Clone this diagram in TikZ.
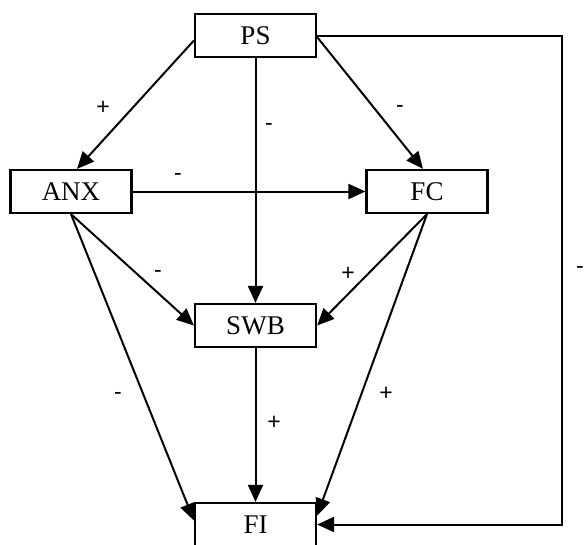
\documentclass[tikz,border=0pt]{standalone}
\usepackage{fontspec}
\setmainfont{Liberation Serif}
\newfontfamily\signfont{Liberation Sans}
\usetikzlibrary{arrows.meta}
\begin{document}
\begin{tikzpicture}[x=1pt,y=-1pt,
  var/.style={draw,line width=2.2pt,minimum width=121pt,minimum height=43pt,
    inner sep=0pt,font=\fontsize{27}{27}\selectfont},
  link/.style={line width=2pt,-{Triangle[length=17pt,width=15pt]}},
  sign/.style={inner sep=0pt,font=\signfont\fontsize{23}{23}\selectfont}]
\useasboundingbox (0,0) rectangle (585,544);
% variables
\node[var] (PS)  at (255.5,35.5)  {PS};
\node[var] (ANX) at (71,191.5)    {ANX};
\node[var] (FC)  at (427,191.5)   {FC};
\node[var] (SWB) at (255.5,325.5) {SWB};
\node[var] (FI)  at (255.5,524.5) {FI};
\coordinate (fb) at (562,35.5);
% causal links
\draw[link] ([yshift=-5pt]PS.west) -- ([xshift=6pt]ANX.north);
\draw[link] ([yshift=-1.5pt]PS.east) -- ([xshift=-4pt]FC.north);
\draw[link] (PS.south) -- (SWB.north);
\draw[link] (ANX.east) -- (FC.west);
\draw[link] (ANX.south) -- (SWB.west);
\draw[link] (ANX.south) -- ([yshift=4pt]FI.west);
\draw[link] (FC.south) -- (SWB.east);
\draw[link] (FC.south) -- ([yshift=9pt]FI.east);
\draw[link] (SWB.south) -- (FI.north);
\draw[link] (PS.east) -- (fb) |- (FI.east);
% signs
\node[sign] (s1)  at (103,108) {+};
\node[sign] (s2)  at (269,127) {-};
\node[sign] (s3)  at (400,109) {-};
\node[sign] (s4)  at (178,177) {-};
\node[sign] (s5)  at (158,274) {-};
\node[sign] (s6)  at (348,274) {+};
\node[sign] (s7)  at (118,396) {-};
\node[sign] (s8)  at (274,423) {+};
\node[sign] (s9)  at (386,394) {+};
\node[sign] (s10) at (580,270) {-};
\end{tikzpicture}
\end{document}
